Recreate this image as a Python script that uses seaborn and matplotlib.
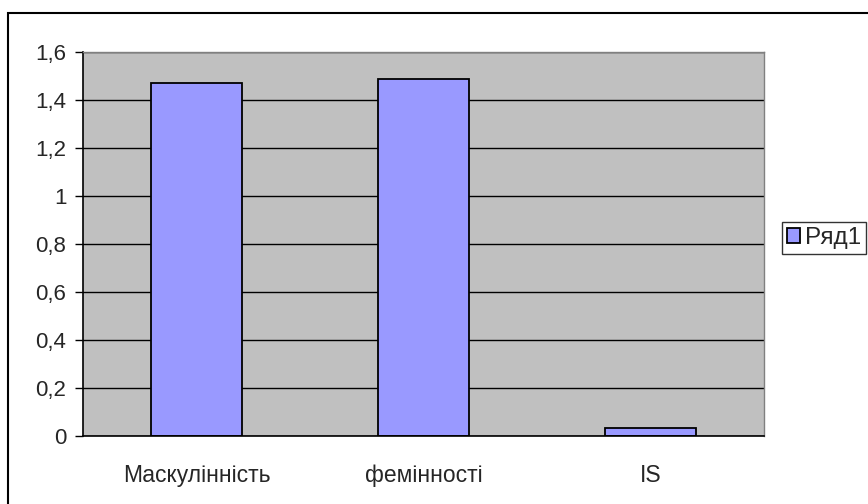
import pandas as pd
import numpy as np
import matplotlib.pyplot as plt
import seaborn as sns
from matplotlib.patches import Rectangle
from matplotlib.ticker import FuncFormatter, FixedLocator

# data
categories = ["Маскулінність", "фемінності", "IS"]
values = [1.47, 1.487, 0.033]
series_name = "Ряд1"

df = pd.DataFrame({"cat": categories, "val": values, "series": series_name})

sns.set_style("white")
plt.rcParams['font.family'] = ['Liberation Sans', 'DejaVu Sans']

fig = plt.figure(figsize=(8.68, 5.04), dpi=100)
ax = fig.add_axes([83 / 868, 1 - 436 / 504, (764 - 83) / 868, (436 - 52) / 504])
ax.set_facecolor("#c0c0c0")

sns.barplot(data=df, x="cat", y="val", hue="series", palette=["#9999ff"],
            width=0.4, edgecolor="black", linewidth=1.3, saturation=1, ax=ax)

ax.set_ylim(0, 1.6)
ax.set_xlim(-0.5, 2.5)
ax.set_yticks(np.arange(0, 1.61, 0.2))
ax.yaxis.set_major_formatter(FuncFormatter(lambda v, p: f"{v:.1f}".replace(".", ",").replace(",0", "")))
ax.grid(axis="y", color="black", linewidth=1)
ax.set_axisbelow(True)
ax.set_xlabel("")
ax.set_ylabel("")

# category boundary ticks
ax.xaxis.set_minor_locator(FixedLocator([-0.5, 0.5, 1.5, 2.5]))
ax.tick_params(axis="x", which="major", length=0, labelsize=16.5, pad=20)
ax.tick_params(axis="x", which="minor", length=5, width=1, color="black", direction="out")
ax.tick_params(axis="y", length=6, width=1, color="black", direction="out", labelsize=16, pad=6, left=True)

for s in ["left", "bottom"]:
    ax.spines[s].set_color("black")
    ax.spines[s].set_linewidth(1.2)
for s in ["top", "right"]:
    ax.spines[s].set_color("#808080")
    ax.spines[s].set_linewidth(1)

handles, labels = ax.get_legend_handles_labels()
leg = ax.legend(handles, labels, loc="center left", bbox_to_anchor=(782 / 868, 1 - 238 / 504),
                bbox_transform=fig.transFigure, frameon=True, fancybox=False, fontsize=17.5,
                handlelength=0.55, handleheight=0.55, handletextpad=0.2, borderpad=0.2,
                borderaxespad=0)
leg.get_frame().set_edgecolor("black")
leg.get_frame().set_linewidth(1)

# outer chart border
fig.patches.append(Rectangle((8 / 868, -0.1), 1.1, 1 - 13 / 504 + 0.1, transform=fig.transFigure,
                             fill=False, edgecolor="black", linewidth=1.5, clip_on=False))

fig.savefig("out.png", dpi=100)
